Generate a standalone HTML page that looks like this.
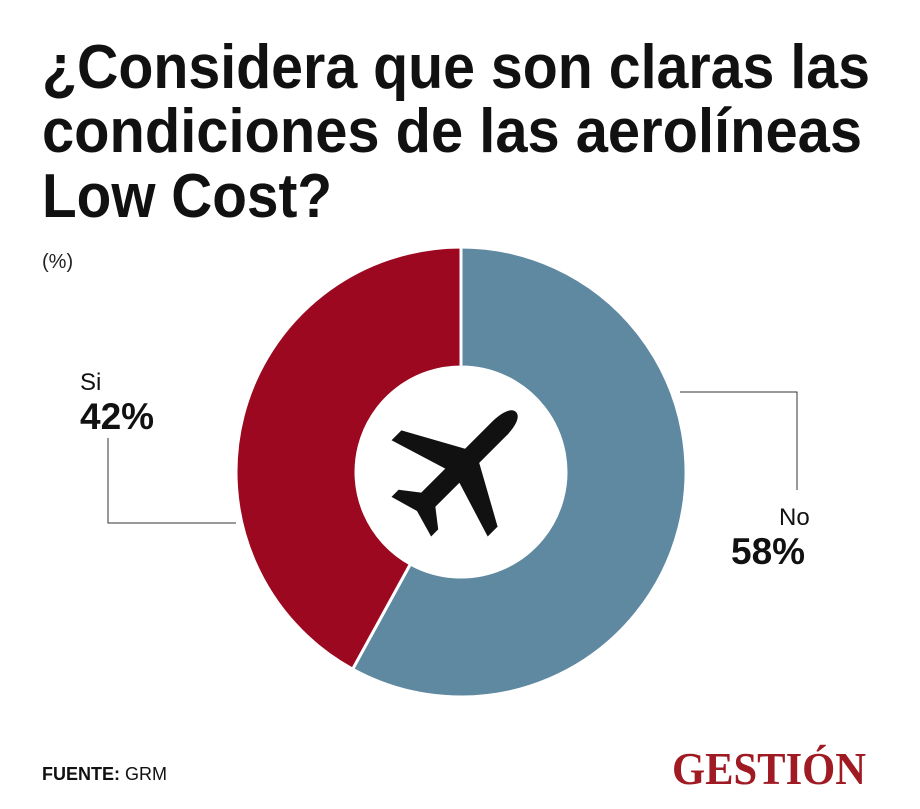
<!DOCTYPE html>
<html><head><meta charset="utf-8"><style>
html,body{margin:0;padding:0;background:#fff;}
svg{display:block;}
</style></head><body>
<svg width="920" height="809" viewBox="0 0 920 809" xmlns="http://www.w3.org/2000/svg" font-family="Liberation Sans, sans-serif">
<g font-weight="bold" font-size="62" fill="#111">
<text x="42" y="88" textLength="828" lengthAdjust="spacingAndGlyphs">¿Considera que son claras las</text>
<text x="42" y="152" textLength="820" lengthAdjust="spacingAndGlyphs">condiciones de las aerolíneas</text>
<text x="42" y="217" textLength="290" lengthAdjust="spacingAndGlyphs">Low Cost?</text>
</g>
<text x="42" y="268" font-size="20" fill="#222">(%)</text>
<g id="donut"></g>
<g transform="translate(458,470) rotate(45)" fill="#111">
<path d="M0,-82 C7,-82 10,-70 10,-58 L10,-20 L68,12 L68,26 L10,8 L10,42 L28,56 L28,66 L0,58 L-28,66 L-28,56 L-10,42 L-10,8 L-68,26 L-68,12 L-10,-20 L-10,-58 C-10,-70 -7,-82 0,-82Z"/>
</g>
<g stroke="#333" stroke-width="1" fill="none">
<polyline points="108,438 108,523 236,523"/>
</g>
<g stroke="#333" stroke-width="1" fill="none">
<polyline points="680,392 797,392 797,490"/>
</g>
<text x="80" y="390" font-size="24" fill="#111">Si</text>
<text x="80" y="429" font-size="37" font-weight="bold" fill="#111">42%</text>
<text x="779" y="525" font-size="24" fill="#111">No</text>
<text x="731" y="564" font-size="37" font-weight="bold" fill="#111">58%</text>
<text x="42" y="780" font-size="18" fill="#111"><tspan font-weight="bold">FUENTE:</tspan> GRM</text>
<text x="672" y="784" font-family="Liberation Serif, serif" font-weight="bold" font-size="46" fill="#a01a24" textLength="194" lengthAdjust="spacingAndGlyphs">GESTIÓN</text>
</svg>
<script>
const categories=["No","Si"];
const values=[58,42];
const colors=["#5e89a0","#9b0820"];
const cx=461,cy=472,R=225,r=105;
const g=document.getElementById('donut');
const total=values.reduce((a,b)=>a+b,0);
let a0=0;
function pt(rad,a){const t=a*2*Math.PI-Math.PI/2;return [cx+rad*Math.cos(t),cy+rad*Math.sin(t)];}
values.forEach((v,i)=>{
  const a1=a0+v/total;
  const large=(a1-a0)>0.5?1:0;
  const p1=pt(R,a0),p2=pt(R,a1),p3=pt(r,a1),p4=pt(r,a0);
  const p=document.createElementNS('http://www.w3.org/2000/svg','path');
  p.setAttribute('d',`M${p1} A${R},${R} 0 ${large} 1 ${p2} L${p3} A${r},${r} 0 ${large} 0 ${p4} Z`);
  p.setAttribute('fill',colors[i]);
  p.setAttribute('stroke','#fff');
  p.setAttribute('stroke-width','3');
  
  
  g.appendChild(p);
  a0=a1;
});
</script>
</body></html>
